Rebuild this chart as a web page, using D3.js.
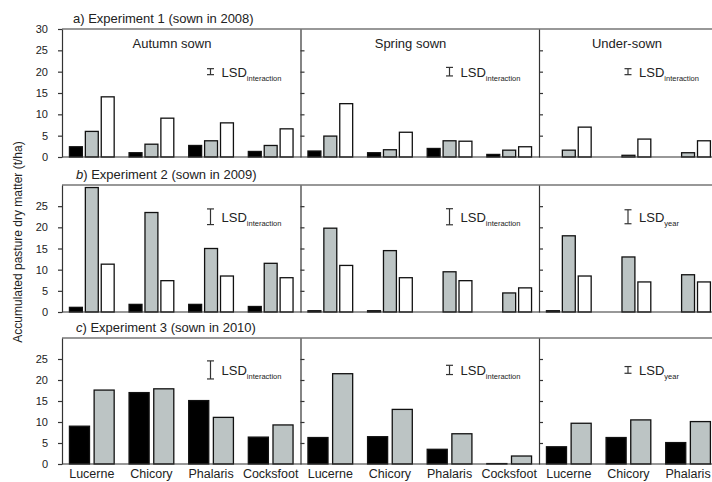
<!DOCTYPE html>
<html>
<head>
<meta charset="utf-8">
<script src="https://cdn.jsdelivr.net/npm/d3@7"></script>
<style>
  body { margin: 0; background: #fff; }
  svg text { font-family: "Liberation Sans", Arial, sans-serif; fill: #222; }
</style>
</head>
<body>
<svg id="chart" width="712" height="482"></svg>
<script>
// categories and labels
const categories = ["Lucerne", "Chicory", "Phalaris", "Cocksfoot"];
const sowings = ["Autumn sown", "Spring sown", "Under-sown"];
const titleLetters = ["a", "b", "c"];
const titleTexts = [") Experiment 1 (sown in 2008)", ") Experiment 2 (sown in 2009)", ") Experiment 3 (sown in 2010)"];
const yLabel = "Accumulated pasture dry matter (t/ha)";

// accumulated dry matter (t/ha), per category: [year 1, year 2, year 3]
// under-sown cocksfoot lies outside the picture
const exp1Autumn = [[2.4, 6.0, 14.1], [1.0, 3.0, 9.1], [2.7, 3.8, 8.0], [1.3, 2.7, 6.6]];
const exp1Spring = [[1.4, 4.9, 12.5], [1.0, 1.7, 5.8], [2.0, 3.8, 3.7], [0.6, 1.6, 2.4]];
const exp1Under = [[0, 1.6, 7.0], [0, 0.4, 4.2], [0, 1.0, 3.8], [null, null, null]];

const exp2Autumn = [[1.1, 29.4, 11.3], [1.8, 23.5, 7.4], [1.8, 15.0, 8.5], [1.3, 11.5, 8.1]];
const exp2Spring = [[0.3, 19.8, 11.0], [0.3, 14.5, 8.1], [0, 9.5, 7.4], [0, 4.5, 5.7]];
const exp2Under = [[0.3, 18.0, 8.5], [0, 13.0, 7.1], [0, 8.8, 7.1], [null, null, null]];

const exp3Autumn = [[9.0, 17.6], [17.0, 17.9], [15.1, 11.1], [6.4, 9.3]];
const exp3Spring = [[6.3, 21.5], [6.5, 13.0], [3.5, 7.2], [0.1, 1.9]];
const exp3Under = [[4.1, 9.7], [6.3, 10.5], [5.1, 10.1], [null, null]];

// LSD bars (t/ha) and their subscripts
const lsdValues = [[1.4, 2.0, 1.4], [3.7, 3.8, 3.3], [4.3, 2.2, 1.6]];
const lsdTerms = [
    ["interaction", "interaction", "interaction"],
    ["interaction", "interaction", "year"],
    ["interaction", "interaction", "year"]
];

const yTicksTop = [0, 5, 10, 15, 20, 25, 30];
const yTicks = [0, 5, 10, 15, 20, 25];

const experiments = [
    [exp1Autumn, exp1Spring, exp1Under],
    [exp2Autumn, exp2Spring, exp2Under],
    [exp3Autumn, exp3Spring, exp3Under]
];

// layout
const left = 62,
    panelW = 238.5,
    rows = [[29, 157], [185, 312], [338, 464]],
    lsdCentre = [20, 22.5, 22.4],
    lsdX = [148.5, 149, 89],
    sowLabelX = [110, 110, 88],
    fills = ["#000", "#bcc4c4", "#fff"],
    lineColour = "#333";

const svg = d3.select("#chart");

rows.forEach(function(row, r) {
    const top = row[0], bottom = row[1];
    const y = d3.scaleLinear().domain([0, 30]).range([bottom, top]);

    // title
    const title = svg.append("text")
        .attr("x", r === 0 ? 73 : 76)
        .attr("y", top - 6)
        .attr("font-size", 13);
    title.append("tspan").attr("font-style", r === 0 ? "normal" : "italic").text(titleLetters[r]);
    title.append("tspan").text(titleTexts[r]);

    sowings.forEach(function(sowing, c) {
        const x0 = left + c * panelW;
        const data = experiments[r][c];
        const nSeries = data[0].length;

        const xg = d3.scaleBand().domain(categories)
            .range([x0, x0 + panelW])
            .paddingInner(0.25)
            .paddingOuter(0.125);
        const xs = d3.scaleBand().domain(d3.range(nSeries))
            .range([0, xg.bandwidth()])
            .paddingInner(0.1875);

        const bars = [];
        data.forEach(function(vals, i) {
            vals.forEach(function(v, j) {
                if (v !== null) bars.push({cat: categories[i], s: j, v: v});
            });
        });

        svg.append("g").selectAll("rect")
            .data(bars)
            .join("rect")
            .attr("x", d => xg(d.cat) + xs(d.s))
            .attr("y", d => y(d.v))
            .attr("width", xs.bandwidth())
            .attr("height", d => y(0) - y(d.v))
            .attr("fill", d => fills[d.s])
            .attr("stroke", "#111")
            .attr("stroke-width", 1.3);

        // y axis
        const ax = svg.append("g").attr("transform", "translate(" + x0 + ",0)");
        if (c === 0) {
            ax.call(d3.axisLeft(y)
                .tickValues(r === 0 ? yTicksTop : yTicks)
                .tickSize(4)
                .tickPadding(10)
                .tickSizeOuter(0));
        } else {
            ax.call(d3.axisRight(y)
                .tickValues([5, 10, 15, 20, 25])
                .tickSize(4)
                .tickFormat("")
                .tickSizeOuter(0));
        }
        ax.attr("font-family", null).attr("font-size", 11);
        ax.selectAll("path, line").attr("stroke", lineColour).attr("stroke-width", 1.2);

        // sowing label
        if (r === 0) {
            svg.append("text")
                .attr("x", x0 + sowLabelX[c])
                .attr("y", 47.5)
                .attr("text-anchor", "middle")
                .attr("font-size", 13)
                .text(sowing);
        }

        // category labels
        if (r === rows.length - 1) {
            svg.append("g").selectAll("text")
                .data(categories)
                .join("text")
                .attr("x", d => xg(d) + xg.bandwidth() / 2)
                .attr("y", 478)
                .attr("text-anchor", "middle")
                .attr("font-size", 12.5)
                .text(d => d);
        }

        // LSD bar
        const lx = x0 + lsdX[c],
            half = lsdValues[r][c] / 2,
            cy = lsdCentre[r];
        const lsd = svg.append("g").attr("stroke", lineColour).attr("stroke-width", 1.2);
        lsd.append("line").attr("x1", lx).attr("x2", lx).attr("y1", y(cy - half)).attr("y2", y(cy + half));
        lsd.append("line").attr("x1", lx - 3.5).attr("x2", lx + 3.5).attr("y1", y(cy - half)).attr("y2", y(cy - half));
        lsd.append("line").attr("x1", lx - 3.5).attr("x2", lx + 3.5).attr("y1", y(cy + half)).attr("y2", y(cy + half));

        const lt = svg.append("text")
            .attr("x", lx + 11)
            .attr("y", y(cy) + 5)
            .attr("font-size", 13);
        lt.append("tspan").text("LSD");
        lt.append("tspan").attr("font-size", 7.5).attr("dy", 4).text(lsdTerms[r][c]);
    });

    // top and bottom frame lines
    [top, bottom].forEach(function(yy) {
        svg.append("line")
            .attr("x1", left).attr("x2", left + 3 * panelW)
            .attr("y1", yy).attr("y2", yy)
            .attr("stroke", lineColour)
            .attr("stroke-width", 1.2);
    });
});

svg.append("text")
    .attr("transform", "translate(22,242) rotate(-90)")
    .attr("text-anchor", "middle")
    .attr("font-size", 12)
    .text(yLabel);
</script>
</body>
</html>
